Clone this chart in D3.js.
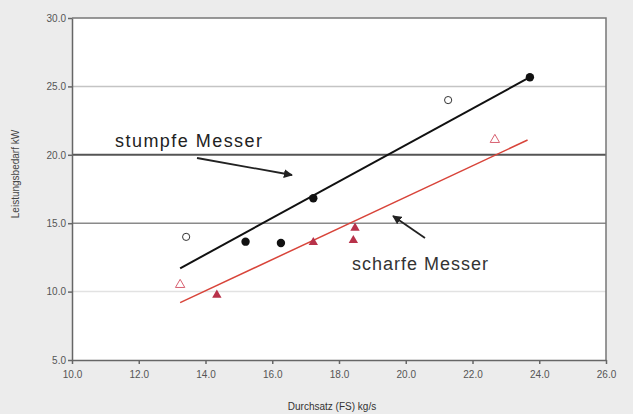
<!DOCTYPE html>
<html>
<head>
<meta charset="utf-8">
<script src="https://cdn.jsdelivr.net/npm/d3@7"></script>
<style>
  body { margin: 0; background: #ececec; }
  svg { display: block; font-family: 'Liberation Sans', Arial, sans-serif; }
  .tick text { fill: #555; font-size: 10px; }
</style>
</head>
<body>
<div id="chart"></div>
<script>
// stumpfe Messer (circles): filled and open
const bluntFilled = [[15.2, 13.65], [16.26, 13.55], [17.23, 16.82], [23.72, 25.67]]
const bluntOpen = [[13.42, 14.0], [21.27, 24.0]]
// scharfe Messer (triangles)
const sharpFilled = [[14.34, 9.75], [17.23, 13.6], [18.43, 13.75], [18.48, 14.65]]
const sharpOpen = [[13.24, 10.5], [22.67, 21.1]]
// regression lines (start, end)
const bluntFit = [[13.24, 11.7], [23.72, 25.67]]
const sharpFit = [[13.24, 9.19], [23.65, 21.08]]

const xTicks = [10, 12, 14, 16, 18, 20, 22, 24, 26]
const yTicks = [5, 10, 15, 20, 25, 30]
const gridLines = [
  {v: 25, color: '#c4c4c4', w: 1.5},
  {v: 20, color: '#555', w: 2},
  {v: 15, color: '#8a8a8a', w: 1.5},
  {v: 10, color: '#e2e2e2', w: 1.5}
]

const width = 633
const height = 414
const margins = {top: 18, left: 72, right: 27, bottom: 54}

const svg = d3.select('#chart').append('svg')
  .attr('width', width)
  .attr('height', height)

svg.append('defs').append('marker')
  .attr('id', 'arrow')
  .attr('viewBox', '0 0 10 10')
  .attr('refX', 9).attr('refY', 5)
  .attr('markerWidth', 5).attr('markerHeight', 5)
  .attr('orient', 'auto')
  .append('path')
  .attr('d', 'M0,0 L10,5 L0,10 z')
  .attr('fill', '#222')

const x = d3.scaleLinear().domain([10, 26]).range([margins.left, width - margins.right])
const y = d3.scaleLinear().domain([5, 30]).range([height - margins.bottom, margins.top])

// plot area
svg.append('rect')
  .attr('x', x(10)).attr('y', y(30))
  .attr('width', x(26) - x(10)).attr('height', y(5) - y(30))
  .attr('fill', '#fff')

svg.selectAll('line.grid')
  .data(gridLines)
  .enter().append('line')
  .classed('grid', true)
  .attr('x1', x(10)).attr('x2', x(26))
  .attr('y1', d => y(d.v)).attr('y2', d => y(d.v))
  .attr('stroke', d => d.color)
  .attr('stroke-width', d => d.w)

// frame top and right
svg.append('path')
  .attr('d', 'M' + x(10) + ',' + y(30) + 'H' + x(26) + 'V' + y(5))
  .attr('fill', 'none')
  .attr('stroke', '#777')
  .attr('stroke-width', 1.5)

const xAxisG = svg.append('g')
  .attr('transform', 'translate(0,' + y(5) + ')')
  .call(d3.axisBottom(x).tickValues(xTicks).tickSize(4).tickSizeOuter(0).tickFormat(d3.format('.1f')))
xAxisG.selectAll('text').attr('dy', '1.1em')

const yAxisG = svg.append('g')
  .attr('transform', 'translate(' + x(10) + ',0)')
  .call(d3.axisLeft(y).tickValues(yTicks).tickSize(4).tickSizeOuter(0).tickFormat(d3.format('.1f')))
yAxisG.selectAll('text').attr('x', -6)

svg.selectAll('.domain, .tick line').attr('stroke', '#666').attr('stroke-width', 1.5)

// axis labels
svg.append('text')
  .attr('transform', 'translate(' + 19 + ',' + 174 + ') rotate(-90)')
  .attr('text-anchor', 'middle')
  .attr('font-size', 10)
  .attr('fill', '#444')
  .text('Leistungsbedarf kW')

svg.append('text')
  .attr('x', 332).attr('y', 410)
  .attr('text-anchor', 'middle')
  .attr('font-size', 10)
  .attr('fill', '#333')
  .text('Durchsatz (FS) kg/s')

// regression lines
const line = d3.line().x(d => x(d[0])).y(d => y(d[1]))
svg.append('path').datum(bluntFit)
  .attr('d', line).attr('fill', 'none')
  .attr('stroke', '#111').attr('stroke-width', 2)
svg.append('path').datum(sharpFit)
  .attr('d', line).attr('fill', 'none')
  .attr('stroke', '#d8443a').attr('stroke-width', 1.5)

// markers
svg.selectAll('circle.filled')
  .data(bluntFilled)
  .enter().append('circle')
  .attr('cx', d => x(d[0])).attr('cy', d => y(d[1]))
  .attr('r', 4.2).attr('fill', '#111')

svg.selectAll('circle.open')
  .data(bluntOpen)
  .enter().append('circle')
  .attr('cx', d => x(d[0])).attr('cy', d => y(d[1]))
  .attr('r', 3.6).attr('fill', '#fff')
  .attr('stroke', '#333').attr('stroke-width', 1)

const tri = d3.symbol().type(d3.symbolTriangle).size(38)
svg.selectAll('path.tri-filled')
  .data(sharpFilled)
  .enter().append('path')
  .attr('transform', d => 'translate(' + x(d[0]) + ',' + y(d[1]) + ')')
  .attr('d', tri).attr('fill', '#b8324a')

svg.selectAll('path.tri-open')
  .data(sharpOpen)
  .enter().append('path')
  .attr('transform', d => 'translate(' + x(d[0]) + ',' + y(d[1]) + ')')
  .attr('d', tri).attr('fill', '#fff')
  .attr('stroke', '#d86070').attr('stroke-width', 1)

// annotations
svg.append('text')
  .attr('x', 115).attr('y', 147)
  .attr('font-size', 18).attr('fill', '#222')
  .attr('textLength', 147).attr('lengthAdjust', 'spacing')
  .text('stumpfe Messer')
svg.append('line')
  .attr('x1', 197).attr('y1', 158).attr('x2', 292).attr('y2', 175)
  .attr('stroke', '#222').attr('stroke-width', 1.8)
  .attr('marker-end', 'url(#arrow)')

svg.append('text')
  .attr('x', 352).attr('y', 270)
  .attr('font-size', 18).attr('fill', '#333')
  .attr('textLength', 136).attr('lengthAdjust', 'spacing')
  .text('scharfe Messer')
svg.append('line')
  .attr('x1', 425).attr('y1', 238).attr('x2', 393).attr('y2', 216)
  .attr('stroke', '#222').attr('stroke-width', 1.8)
  .attr('marker-end', 'url(#arrow)')
</script>
</body>
</html>
